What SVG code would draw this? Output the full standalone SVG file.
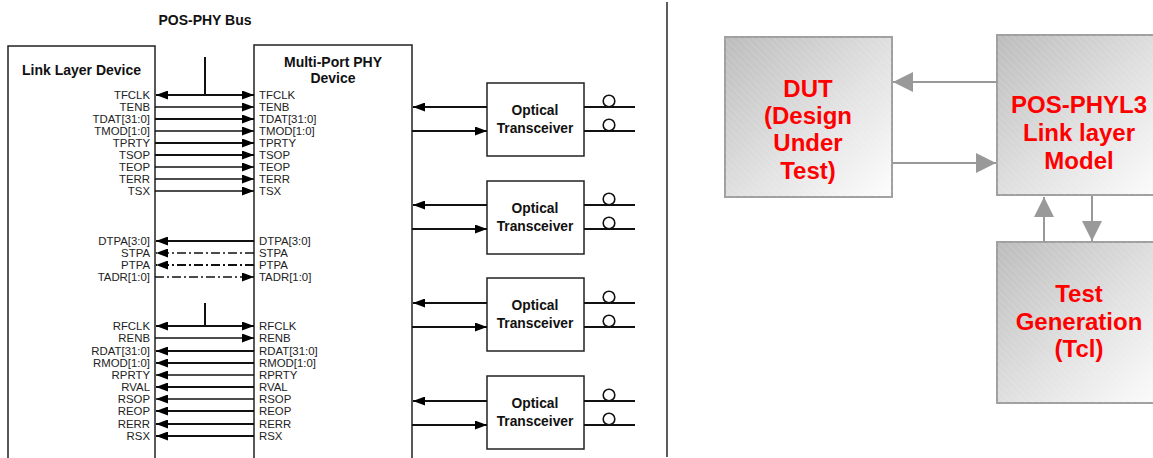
<svg xmlns="http://www.w3.org/2000/svg" width="1153" height="458" viewBox="0 0 1153 458">
<style>
.lbl{font-family:"Liberation Sans",Arial,sans-serif;font-size:11.4px;fill:#222}
.l{text-anchor:end}
.bt{font-family:"Liberation Sans",Arial,sans-serif;font-size:14px;font-weight:bold;fill:#111}
.tt{font-size:13.8px}
.c{text-anchor:middle}
.box{fill:#fff;stroke:#222;stroke-width:1.5}
.sig{stroke:#111;stroke-width:2;fill:none}
.thin{stroke:#111;stroke-width:1.3;fill:none}
.dd{stroke-dasharray:9 3 2 3}
.rt{font-family:"Liberation Sans",Arial,sans-serif;font-size:24px;font-weight:bold;fill:#ff0000;text-anchor:middle}
.gbox{stroke:#a0a0a0;stroke-width:2}
.garr{stroke:#999;stroke-width:2;fill:none}
</style>
<defs>
<marker id="ah" viewBox="0 0 12 9" refX="12" refY="4.5" markerWidth="12" markerHeight="9" markerUnits="userSpaceOnUse" orient="auto-start-reverse">
<path d="M0,0 L12,4.5 L0,9 Z" fill="#000"/>
</marker>
<marker id="gah" viewBox="0 0 20 20" refX="20" refY="10" markerWidth="20" markerHeight="20" markerUnits="userSpaceOnUse" orient="auto">
<path d="M0,0 L20,10 L0,20 Z" fill="#999"/>
</marker>
<linearGradient id="gg" x1="0" y1="0" x2="1" y2="1">
<stop offset="0" stop-color="#bcbcbc"/>
<stop offset="0.55" stop-color="#e2e2e2"/>
<stop offset="1" stop-color="#fdfdfd"/>
</linearGradient>
<pattern id="hatch" width="5" height="5" patternUnits="userSpaceOnUse" patternTransform="rotate(-45)">
<line x1="0" y1="0" x2="0" y2="5" stroke="#ffffff" stroke-opacity="0.25" stroke-width="1"/>
</pattern>
</defs>

<text class="bt c" x="205" y="25">POS-PHY Bus</text>
<line x1="667" y1="2" x2="667" y2="457" stroke="#333" stroke-width="1.6"/>

<g id="link-layer-device">
<rect class="box" x="8" y="46" width="147" height="420"/>
<text class="bt" x="22" y="75">Link Layer Device</text>
<g class="lbl l">
<text x="150" y="99">TFCLK</text><text x="150" y="111">TENB</text><text x="150" y="123">TDAT[31:0]</text>
<text x="150" y="135">TMOD[1:0]</text><text x="150" y="147">TPRTY</text><text x="150" y="159">TSOP</text>
<text x="150" y="171">TEOP</text><text x="150" y="183">TERR</text><text x="150" y="195">TSX</text>
<text x="150" y="245">DTPA[3:0]</text><text x="150" y="257">STPA</text><text x="150" y="269">PTPA</text><text x="150" y="281">TADR[1:0]</text>
<text x="150" y="330">RFCLK</text><text x="150" y="342">RENB</text><text x="150" y="355">RDAT[31:0]</text>
<text x="150" y="367">RMOD[1:0]</text><text x="150" y="379">RPRTY</text><text x="150" y="391">RVAL</text>
<text x="150" y="403">RSOP</text><text x="150" y="415">REOP</text><text x="150" y="428">RERR</text><text x="150" y="440">RSX</text>
</g>
</g>

<g id="multi-port-phy-device">
<rect class="box" x="254" y="45" width="158" height="420"/>
<text class="bt c" x="333" y="67">Multi-Port PHY</text>
<text class="bt c" x="333" y="83">Device</text>
<g class="lbl">
<text x="259" y="99">TFCLK</text><text x="259" y="111">TENB</text><text x="259" y="123">TDAT[31:0]</text>
<text x="259" y="135">TMOD[1:0]</text><text x="259" y="147">TPRTY</text><text x="259" y="159">TSOP</text>
<text x="259" y="171">TEOP</text><text x="259" y="183">TERR</text><text x="259" y="195">TSX</text>
<text x="259" y="245">DTPA[3:0]</text><text x="259" y="257">STPA</text><text x="259" y="269">PTPA</text><text x="259" y="281">TADR[1:0]</text>
<text x="259" y="330">RFCLK</text><text x="259" y="342">RENB</text><text x="259" y="355">RDAT[31:0]</text>
<text x="259" y="367">RMOD[1:0]</text><text x="259" y="379">RPRTY</text><text x="259" y="391">RVAL</text>
<text x="259" y="403">RSOP</text><text x="259" y="415">REOP</text><text x="259" y="428">RERR</text><text x="259" y="440">RSX</text>
</g>
</g>

<g id="transceiver-1">
<rect class="box" x="487" y="83" width="97" height="73"/>
<text class="bt tt c" x="535" y="115">Optical</text><text class="bt tt c" x="535" y="133">Transceiver</text>
</g>
<g id="transceiver-2">
<rect class="box" x="487" y="181" width="97" height="73"/>
<text class="bt tt c" x="535" y="213">Optical</text><text class="bt tt c" x="535" y="231">Transceiver</text>
</g>
<g id="transceiver-3">
<rect class="box" x="487" y="278" width="97" height="73"/>
<text class="bt tt c" x="535" y="310">Optical</text><text class="bt tt c" x="535" y="328">Transceiver</text>
</g>
<g id="transceiver-4">
<rect class="box" x="487" y="376" width="97" height="73"/>
<text class="bt tt c" x="535" y="408">Optical</text><text class="bt tt c" x="535" y="426">Transceiver</text>
</g>

<g id="dut">
<rect class="gbox" x="725" y="37" width="167" height="160" fill="url(#gg)"/>
<rect x="725" y="37" width="167" height="160" fill="url(#hatch)"/>
<text class="rt" x="808" y="97">DUT</text>
<text class="rt" x="808" y="124">(Design</text>
<text class="rt" x="808" y="151">Under</text>
<text class="rt" x="808" y="179">Test)</text>
</g>
<g id="pos-phyl3-model">
<rect class="gbox" x="997" y="35" width="167" height="160" fill="url(#gg)"/>
<rect x="997" y="35" width="167" height="160" fill="url(#hatch)"/>
<text class="rt" x="1079" y="113">POS-PHYL3</text>
<text class="rt" x="1079" y="141">Link layer</text>
<text class="rt" x="1079" y="169">Model</text>
</g>
<g id="test-generation">
<rect class="gbox" x="997" y="242" width="167" height="161" fill="url(#gg)"/>
<rect x="997" y="242" width="167" height="161" fill="url(#hatch)"/>
<text class="rt" x="1079" y="302">Test</text>
<text class="rt" x="1079" y="330">Generation</text>
<text class="rt" x="1079" y="357">(Tcl)</text>
</g>

<g id="connectors">
<line class="sig" x1="205" y1="57" x2="205" y2="95"/>
<line class="sig" x1="156" y1="95" x2="254" y2="95" marker-start="url(#ah)" marker-end="url(#ah)"/>
<line class="thin" x1="155" y1="107" x2="254" y2="107" marker-end="url(#ah)"/>
<line class="sig" x1="155" y1="119" x2="254" y2="119" marker-end="url(#ah)"/>
<line class="thin" x1="155" y1="131" x2="254" y2="131" marker-end="url(#ah)"/>
<line class="sig" x1="155" y1="143" x2="254" y2="143" marker-end="url(#ah)"/>
<line class="sig" x1="155" y1="155" x2="254" y2="155" marker-end="url(#ah)"/>
<line class="thin" x1="155" y1="167" x2="254" y2="167" marker-end="url(#ah)"/>
<line class="thin" x1="155" y1="179" x2="254" y2="179" marker-end="url(#ah)"/>
<line class="thin" x1="155" y1="191" x2="254" y2="191" marker-end="url(#ah)"/>

<line class="sig" x1="254" y1="241" x2="156" y2="241" marker-end="url(#ah)"/>
<line class="thin dd" x1="254" y1="253" x2="156" y2="253" marker-end="url(#ah)"/>
<line class="sig dd" x1="254" y1="265" x2="156" y2="265" marker-end="url(#ah)"/>
<line class="thin dd" x1="155" y1="277" x2="254" y2="277" marker-end="url(#ah)"/>

<line class="sig" x1="205" y1="303" x2="205" y2="326"/>
<line class="sig" x1="156" y1="326" x2="254" y2="326" marker-start="url(#ah)" marker-end="url(#ah)"/>
<line class="thin" x1="155" y1="338" x2="254" y2="338" marker-end="url(#ah)"/>
<line class="sig" x1="254" y1="351" x2="156" y2="351" marker-end="url(#ah)"/>
<line class="sig" x1="254" y1="363" x2="156" y2="363" marker-end="url(#ah)"/>
<line class="thin" x1="254" y1="375" x2="156" y2="375" marker-end="url(#ah)"/>
<line class="sig" x1="254" y1="387" x2="156" y2="387" marker-end="url(#ah)"/>
<line class="thin" x1="254" y1="399" x2="156" y2="399" marker-end="url(#ah)"/>
<line class="sig" x1="254" y1="411" x2="156" y2="411" marker-end="url(#ah)"/>
<line class="sig" x1="254" y1="424" x2="156" y2="424" marker-end="url(#ah)"/>
<line class="sig" x1="254" y1="436" x2="156" y2="436" marker-end="url(#ah)"/>

<line class="sig" x1="487" y1="107" x2="413" y2="107" marker-end="url(#ah)"/>
<line class="sig" x1="412" y1="131" x2="487" y2="131" marker-end="url(#ah)"/>
<line class="sig" x1="487" y1="205" x2="413" y2="205" marker-end="url(#ah)"/>
<line class="sig" x1="412" y1="229" x2="487" y2="229" marker-end="url(#ah)"/>
<line class="sig" x1="487" y1="303" x2="413" y2="303" marker-end="url(#ah)"/>
<line class="sig" x1="412" y1="327" x2="487" y2="327" marker-end="url(#ah)"/>
<line class="sig" x1="487" y1="401" x2="413" y2="401" marker-end="url(#ah)"/>
<line class="sig" x1="412" y1="425" x2="487" y2="425" marker-end="url(#ah)"/>

<g class="sig">
<line x1="584" y1="107" x2="635" y2="107"/><line x1="584" y1="131" x2="635" y2="131"/>
<line x1="584" y1="205" x2="635" y2="205"/><line x1="584" y1="229" x2="635" y2="229"/>
<line x1="584" y1="303" x2="635" y2="303"/><line x1="584" y1="327" x2="635" y2="327"/>
<line x1="584" y1="401" x2="635" y2="401"/><line x1="584" y1="425" x2="635" y2="425"/>
</g>
<g fill="#fff" stroke="#111" stroke-width="1.6">
<circle cx="609" cy="101" r="5.8"/><circle cx="609" cy="125" r="5.8"/>
<circle cx="609" cy="199" r="5.8"/><circle cx="609" cy="223" r="5.8"/>
<circle cx="609" cy="297" r="5.8"/><circle cx="609" cy="321" r="5.8"/>
<circle cx="609" cy="395" r="5.8"/><circle cx="609" cy="419" r="5.8"/>
</g>

<line class="garr" x1="997" y1="82" x2="893" y2="82" marker-end="url(#gah)"/>
<line class="garr" x1="892" y1="163" x2="996" y2="163" marker-end="url(#gah)"/>
<line class="garr" x1="1044" y1="242" x2="1044" y2="197" marker-end="url(#gah)"/>
<line class="garr" x1="1092" y1="196" x2="1092" y2="241" marker-end="url(#gah)"/>
</g>
</svg>
